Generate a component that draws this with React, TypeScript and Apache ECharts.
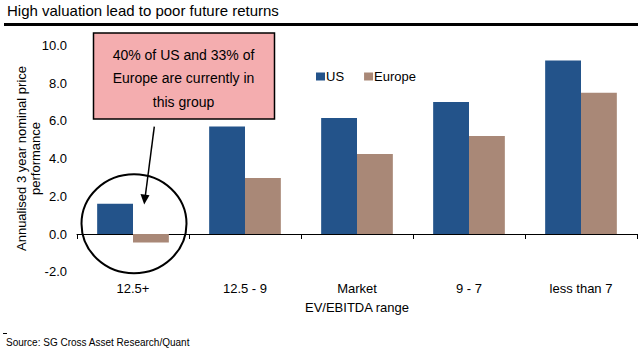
import React, { useEffect, useRef } from "react";
import * as echarts from "echarts";

const categories = ["12.5+", "12.5 - 9", "Market", "9 - 7", "less than 7"];
const usValues = [1.6, 5.7, 6.15, 7.0, 9.2];
const europeValues = [-0.45, 2.97, 4.25, 5.2, 7.5];
const yTicks = { min: -2, max: 10, interval: 2 };

const FONT = "'Liberation Sans', Arial, sans-serif";

export default function App() {
  const ref = useRef<HTMLDivElement>(null);
  useEffect(() => {
    if (!ref.current) return;
    const chart = echarts.init(ref.current, null, { renderer: "svg" });
    chart.setOption({
      animation: false,
      textStyle: { fontFamily: FONT },
      grid: {
        left: 77,
        right: 1,
        top: 45.5,
        bottom: 79.3,
        containLabel: false,
        outerBoundsMode: "none",
      },
      legend: {
        data: ["US", "Europe"],
        left: 311,
        top: 65,
        itemWidth: 9,
        itemHeight: 8,
        itemGap: 20,
        icon: "rect",
        textStyle: { fontFamily: FONT, fontSize: 13, color: "#000", padding: [0, 0, 0, -4] },
      },
      xAxis: {
        type: "category",
        data: categories,
        name: "EV/EBITDA range",
        nameLocation: "middle",
        nameGap: 29,
        nameTextStyle: { fontFamily: FONT, fontSize: 13, color: "#000" },
        axisLine: { onZero: true, lineStyle: { color: "#000", width: 1 } },
        axisTick: { show: true, length: 5, lineStyle: { color: "#000" } },
        axisLabel: { margin: 10, fontFamily: FONT, fontSize: 13, color: "#000" },
      },
      yAxis: {
        type: "value",
        min: yTicks.min,
        max: yTicks.max,
        interval: yTicks.interval,
        axisLine: { show: false },
        axisTick: { show: false },
        splitLine: { show: false },
        axisLabel: {
          margin: 10,
          fontFamily: FONT,
          fontSize: 13,
          color: "#000",
          formatter: (v: number) => v.toFixed(1),
        },
      },
      series: [
        {
          name: "US",
          type: "bar",
          data: usValues,
          barCategoryGap: "36%",
          barGap: "0%",
          itemStyle: { color: "#23538a" },
        },
        {
          name: "Europe",
          type: "bar",
          data: europeValues,
          itemStyle: { color: "#a98877" },
        },
      ],
      graphic: [
        {
          type: "text",
          left: 7,
          top: 3,
          style: {
            text: "High valuation lead to poor future returns",
            fontFamily: FONT,
            fontSize: 15,
            fill: "#000",
          },
        },
        {
          type: "line",
          shape: { x1: 4, y1: 24.5, x2: 638, y2: 24.5 },
          style: { stroke: "#000", lineWidth: 3 },
        },
        {
          type: "rect",
          shape: { x: 93.5, y: 33, width: 181, height: 86 },
          style: { fill: "#f4adaf", stroke: "#000", lineWidth: 1.5 },
          z: 100,
        },
        {
          type: "text",
          x: 183.5,
          y: 78,
          z: 101,
          style: {
            text: "40% of US and 33% of\nEurope are currently in\nthis group",
            fontFamily: FONT,
            fontSize: 14,
            lineHeight: 23.5,
            fill: "#000",
            align: "center",
            verticalAlign: "middle",
          },
        },
        {
          type: "ellipse",
          shape: { cx: 134, cy: 223.7, rx: 52.5, ry: 49.5 },
          style: { fill: "none", stroke: "#000", lineWidth: 2 },
          z: 100,
        },
        {
          type: "line",
          shape: { x1: 154.3, y1: 126.7, x2: 145.3, y2: 196 },
          style: { stroke: "#000", lineWidth: 1.5 },
          z: 100,
        },
        {
          type: "polygon",
          shape: { points: [[144.2, 204.5], [140.5, 194], [149.5, 195.2]] },
          style: { fill: "#000" },
          z: 100,
        },
        {
          type: "text",
          x: 28.5,
          y: 158.5,
          rotation: Math.PI / 2,
          style: {
            text: "Annualised 3 year nominal price\nperformance",
            fontFamily: FONT,
            fontSize: 13,
            lineHeight: 13.5,
            fill: "#000",
            align: "center",
            verticalAlign: "middle",
          },
        },
        {
          type: "line",
          shape: { x1: 3, y1: 333.5, x2: 7, y2: 333.5 },
          style: { stroke: "#000", lineWidth: 1 },
        },
        {
          type: "text",
          left: 6,
          top: 337,
          style: {
            text: "Source: SG Cross Asset Research/Quant",
            fontFamily: FONT,
            fontSize: 10,
            fill: "#000",
          },
        },
      ],
    });
    return () => chart.dispose();
  }, []);
  return <div ref={ref} style={{ width: 638, height: 351, position: "absolute", left: 0, top: 0 }} />;
}
